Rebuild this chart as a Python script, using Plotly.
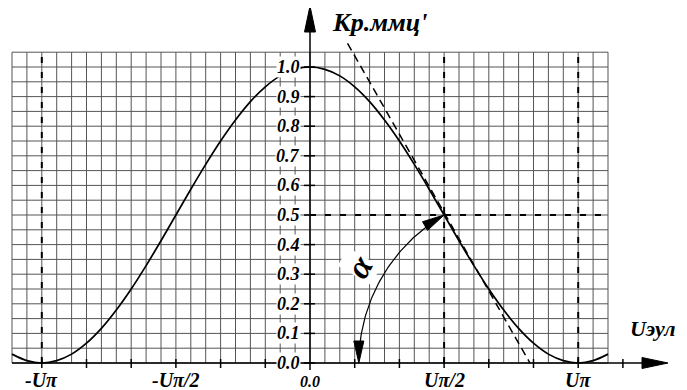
import numpy as np
import plotly.graph_objects as go

# ---------------- data (x in units of Uπ) ----------------
curve_x = [k / 18 for k in range(-20, 21)]
curve_y = [0.030, 0.008, 0.000, 0.008, 0.030, 0.067, 0.117, 0.179, 0.250, 0.329,
           0.413, 0.500, 0.587, 0.671, 0.750, 0.821, 0.883, 0.933, 0.970, 0.992,
           1.000,
           0.992, 0.970, 0.933, 0.883, 0.821, 0.750, 0.671, 0.587, 0.500, 0.413,
           0.329, 0.250, 0.179, 0.117, 0.067, 0.030, 0.008, 0.000, 0.008, 0.030]

tangent_x = [0.14, 0.82]
tangent_y = [1.08, 0.00]

work_x = 0.5      # Uπ/2
work_y = 0.5

x_tick_vals = [-1.0, -0.5, 0.5, 1.0]
x_tick_text = ["-Uπ", "-Uπ/2", "Uπ/2", "Uπ"]
y_tick_vals = [0.0, 0.1, 0.2, 0.3, 0.4, 0.5, 0.6, 0.7, 0.8, 0.9, 1.0]
y_tick_text = ["0.0", "0.1", "0.2", "0.3", "0.4", "0.5", "0.6", "0.7", "0.8", "0.9", "1.0"]
dashed_v = [-1.0, 0.5, 1.0]

grid_x_min, grid_x_max, grid_x_step = -10 / 9, 10 / 9, 1 / 18
grid_y_min, grid_y_max, grid_y_step = 0.0, 1.05, 0.05

y_title = "Кр.ммц'"
x_title = "Uэул"

# ---------------- geometry ----------------
W, H = 687, 390
PAGE_OFF = 8   # page body margin
PX_X = 268.2   # px per Uπ
PX_Y = 296.0   # px per 1.0
X0_PX, Y0_PX = 310, 363  # origin pixel (in the window)
x_range = [-(X0_PX - PAGE_OFF) / PX_X, (W - (X0_PX - PAGE_OFF)) / PX_X]
y_range = [-(H - (Y0_PX - PAGE_OFF)) / PX_Y, (Y0_PX - PAGE_OFF) / PX_Y]


def p2d(px, py):
    return (px - X0_PX) / PX_X, (Y0_PX - py) / PX_Y


fig = go.Figure()
shapes = []

# grid
nx = int(round((grid_x_max - grid_x_min) / grid_x_step))
for i in range(nx + 1):
    gx = grid_x_min + i * grid_x_step
    shapes.append(dict(type="line", x0=gx, x1=gx, y0=grid_y_min, y1=grid_y_max,
                       line=dict(color="#555555", width=1), layer="below"))
ny = int(round((grid_y_max - grid_y_min) / grid_y_step))
for j in range(ny + 1):
    gy = grid_y_min + j * grid_y_step
    shapes.append(dict(type="line", x0=grid_x_min, x1=grid_x_max, y0=gy, y1=gy,
                       line=dict(color="#555555", width=1), layer="below"))

# dashed reference lines
for dv in dashed_v:
    shapes.append(dict(type="line", x0=dv, x1=dv, y0=0, y1=grid_y_max + 0.01,
                       line=dict(color="black", width=2, dash="6px,9px")))
shapes.append(dict(type="line", x0=0, x1=grid_x_max, y0=work_y, y1=work_y,
                   line=dict(color="black", width=2, dash="6px,9px")))

# axes
ytop = p2d(310, 20)[1]
xright = p2d(650, 0)[0]
shapes.append(dict(type="line", x0=0, x1=0, y0=p2d(0, 370)[1], y1=ytop,
                   line=dict(color="black", width=1.5)))
shapes.append(dict(type="line", x0=grid_x_min, x1=xright, y0=0, y1=0,
                   line=dict(color="black", width=1.5)))

# ticks
for k in range(-6, 8):
    tx = k / 6
    if k == 0:
        continue
    shapes.append(dict(type="line", x0=tx, x1=tx, y0=p2d(0, Y0_PX - 4)[1], y1=p2d(0, Y0_PX + 5)[1],
                       line=dict(color="black", width=1.5)))
for tv in y_tick_vals:
    shapes.append(dict(type="line", x0=p2d(X0_PX - 6, 0)[0], x1=p2d(X0_PX + 5, 0)[0], y0=tv, y1=tv,
                       line=dict(color="black", width=1.5)))

# curve
fig.add_trace(go.Scatter(x=curve_x, y=curve_y, mode="lines", line=dict(color="black", width=1.7, shape="spline"),
                         hoverinfo="skip"))
# tangent
fig.add_trace(go.Scatter(x=tangent_x, y=tangent_y, mode="lines",
                         line=dict(color="black", width=1.5, dash="8px,5px"), hoverinfo="skip"))

# alpha arc (pixel-circle centred on tangent foot)
cx_px = X0_PX + tangent_x[1] * PX_X
tip_px = (X0_PX + work_x * PX_X, Y0_PX - work_y * PX_Y)
r_px = np.hypot(tip_px[0] - cx_px, tip_px[1] - Y0_PX)
a_top = np.arctan2(Y0_PX - tip_px[1], tip_px[0] - cx_px)
a_end = np.pi
arc_len_top = 20 / r_px
arc_len_bot = 18 / r_px
angs = np.linspace(a_top + arc_len_top, a_end - arc_len_bot, 60)
arc_x = [(cx_px + r_px * np.cos(a) - X0_PX) / PX_X for a in angs]
arc_y = [(r_px * np.sin(a)) / PX_Y for a in angs]


def head(tip, base_dir, length, half):
    tx, ty = tip
    dx, dy = base_dir
    n = np.hypot(dx, dy)
    dx, dy = dx / n, dy / n
    bx, by = tx - dx * length, ty - dy * length
    px_, py_ = -dy, dx
    pts = [(tx, ty), (bx + px_ * half, by + py_ * half), (bx - px_ * half, by - py_ * half), (tx, ty)]
    xs, ys = zip(*[p2d(a, b) for a, b in pts])
    fig.add_trace(go.Scatter(x=list(xs), y=list(ys), mode="lines", fill="toself", fillcolor="black",
                             line=dict(color="black", width=1), hoverinfo="skip"))


FAM = "Liberation Serif"


def bi(t):
    return "<b><i>" + t + "</i></b>"


annotations = []
for tv, tt in zip(y_tick_vals, y_tick_text):
    annotations.append(dict(x=0, y=tv, text=bi(tt), showarrow=False, xanchor="right", yanchor="middle",
                            xshift=-9, bgcolor="white", borderpad=0,
                            font=dict(family=FAM, size=18, color="black")))
for tv, tt in zip(x_tick_vals, x_tick_text):
    annotations.append(dict(x=tv, y=0, text=bi(tt), showarrow=False, xanchor="center", yanchor="top",
                            yshift=-4, font=dict(family=FAM, size=20, color="black")))
annotations.append(dict(x=0, y=0, text=bi("0.0"), showarrow=False, xanchor="center", yanchor="top",
                        yshift=-8, font=dict(family=FAM, size=16, color="black")))
annotations.append(dict(x=0, y=p2d(0, 22)[1], text=bi(y_title), showarrow=False, xanchor="left",
                        yanchor="middle", xshift=20, font=dict(family=FAM, size=26, color="black")))
annotations.append(dict(x=p2d(652, 0)[0], y=p2d(0, 328)[1], text=bi(x_title), showarrow=False,
                        xanchor="center", yanchor="middle", font=dict(family=FAM, size=22, color="black")))
ax_, ay_ = p2d(359, 266)
annotations.append(dict(x=ax_, y=ay_, text=bi("α"), showarrow=False, textangle=-60, bgcolor="white",
                        borderpad=0, font=dict(family=FAM, size=34, color="black")))

# draw the arc last so it stays visible
fig.add_trace(go.Scatter(x=arc_x, y=arc_y, mode="lines", line=dict(color="black", width=1.2), hoverinfo="skip"))

# axis arrowheads (pixel space, y down)
head((310, 6), (0, -1), 26, 5.5)
head((668, 363), (1, 0), 26, 5.5)
# alpha arrowheads
ddx = np.sin(a_top)
ddy = -np.cos(a_top)
head(tip_px, (ddx, -ddy), 22, 5)
head((cx_px - r_px, Y0_PX), (0, 1), 22, 5)

fig.update_layout(
    width=W, height=H, autosize=False,
    margin=dict(l=0, r=0, t=0, b=0),
    paper_bgcolor="white", plot_bgcolor="white",
    showlegend=False,
    font=dict(family=FAM),
    xaxis=dict(range=x_range, visible=False, fixedrange=True),
    yaxis=dict(range=y_range, visible=False, fixedrange=True),
    shapes=shapes, annotations=annotations,
)
fig.write_html("out.html")
